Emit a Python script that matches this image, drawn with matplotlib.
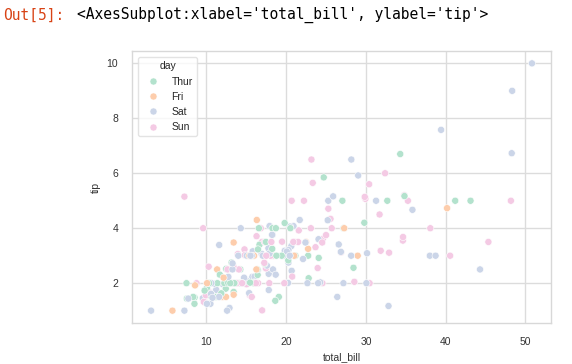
import pandas as pd
import matplotlib
matplotlib.use("Agg")
import matplotlib.pyplot as plt
import seaborn as sns

# tips data, in original row order
total_bill = [
    16.99, 10.34, 21.01, 23.68, 24.59, 25.29, 8.77, 26.88, 15.04, 14.78, 10.27, 35.26, 15.42, 18.43, 14.83, 21.58, 10.33, 16.29, 16.97,
    20.65, 17.92, 20.29, 15.77, 39.42, 19.82, 17.81, 13.37, 12.69, 21.7, 19.65, 9.55, 18.35, 15.06, 20.69, 17.78, 24.06, 16.31, 16.93, 18.69, 31.27, 16.04,
    17.46, 13.94, 9.68, 30.4, 18.29, 22.23, 32.4, 28.55, 18.04, 12.54, 10.29, 34.81, 9.94, 25.56, 19.49,
    38.01, 26.41, 11.24, 48.27, 20.29, 13.81, 11.02, 18.29, 17.59, 20.08, 16.45, 3.07, 20.23, 15.01, 12.02, 17.07, 26.86, 25.28, 14.73, 10.51, 17.92,
    27.2, 22.76, 17.29, 19.44, 16.66, 10.07, 32.68, 15.98, 34.83, 13.03, 18.28, 24.71, 21.16,
    28.97, 22.49, 5.75, 16.32, 22.75, 40.17, 27.28, 12.03, 21.01, 12.46, 11.35, 15.38,
    44.3, 22.42, 20.92, 15.36, 20.49, 25.21, 18.24, 14.31, 14.0, 7.25,
    38.07, 23.95, 25.71, 17.31, 29.93,
    10.65, 12.43, 24.08, 11.69, 13.42, 14.26, 15.95, 12.48, 29.8, 8.52, 14.52, 11.38, 22.82, 19.08, 20.27, 11.17, 12.26, 18.26, 8.51, 10.33,
    14.15, 16.0, 13.16, 17.47, 34.3, 41.19, 27.05, 16.43, 8.35, 18.64, 11.87, 9.78, 7.51,
    14.07, 13.13, 17.26, 24.55, 19.77, 29.85, 48.17, 25.0, 13.39, 16.49, 21.5, 12.66, 16.21, 13.81, 17.51, 24.52, 20.76, 31.71,
    10.59, 10.63, 50.81, 15.81,
    7.25, 31.85, 16.82, 32.9, 17.89, 14.48, 9.6, 34.63, 34.65, 23.33, 45.35, 23.17, 40.55, 20.69, 20.9, 30.46, 18.15, 23.1, 15.69,
    19.81, 28.44, 15.48, 16.58, 7.56, 10.34, 43.11, 13.0, 13.51, 18.71, 12.74, 13.0, 16.4, 20.53, 16.47,
    26.59, 38.73, 24.27, 12.76, 30.06, 25.89, 48.33, 13.27, 28.17, 12.9, 28.15, 11.59, 7.74, 30.14,
    12.16, 13.42, 8.58, 15.98, 13.42, 16.27, 10.09,
    20.45, 13.28, 22.12, 24.01, 15.69, 11.61, 10.77, 15.53, 10.07, 12.6, 32.83, 35.83, 29.03, 27.18, 22.67, 17.82,
    18.78,
]
tip = [
    1.01, 1.66, 3.5, 3.31, 3.61, 4.71, 2.0, 3.12, 1.96, 3.23, 1.71, 5.0, 1.57, 3.0, 3.02, 3.92, 1.67, 3.71, 3.5,
    3.35, 4.08, 2.75, 2.23, 7.58, 3.18, 2.34, 2.0, 2.0, 4.3, 3.0, 1.45, 2.5, 3.0, 2.45, 3.27, 3.6, 2.0, 3.07, 2.31, 5.0, 2.24,
    2.54, 3.06, 1.32, 5.6, 3.0, 5.0, 6.0, 2.05, 3.0, 2.5, 2.6, 5.2, 1.56, 4.34, 3.51,
    3.0, 1.5, 1.76, 6.73, 3.21, 2.0, 1.98, 3.76, 2.64, 3.15, 2.47, 1.0, 2.01, 2.09, 1.97, 3.0, 3.14, 5.0, 2.2, 1.25, 3.08,
    4.0, 3.0, 2.71, 3.0, 3.4, 1.83, 5.0, 2.03, 5.17, 2.0, 4.0, 5.85, 3.0,
    3.0, 3.5, 1.0, 4.3, 3.25, 4.73, 4.0, 1.5, 3.0, 1.5, 2.5, 3.0,
    2.5, 3.48, 4.08, 1.64, 4.06, 4.29, 3.76, 4.0, 3.0, 1.0,
    4.0, 2.55, 4.0, 3.5, 5.07,
    1.5, 1.8, 2.92, 2.31, 1.68, 2.5, 2.0, 2.52, 4.2, 1.48, 2.0, 2.0, 2.18, 1.5, 2.83, 1.5, 2.0, 3.25, 1.25, 2.0,
    2.0, 2.0, 2.75, 3.5, 6.7, 5.0, 5.0, 2.3, 1.5, 1.36, 1.63, 1.73, 2.0,
    2.5, 2.0, 2.74, 2.0, 2.0, 5.14, 5.0, 3.75, 2.61, 2.0, 3.5, 2.5, 2.0, 2.0, 3.0, 3.48, 2.24, 4.5,
    1.61, 2.0, 10.0, 3.16,
    5.15, 3.18, 4.0, 3.11, 2.0, 2.0, 4.0, 3.55, 3.68, 5.65, 3.5, 6.5, 3.0, 5.0, 3.5, 2.0, 3.5, 4.0, 1.5,
    4.19, 2.56, 2.02, 4.0, 1.44, 2.0, 5.0, 2.0, 2.0, 4.0, 2.01, 2.0, 2.5, 4.0, 3.23,
    3.41, 3.0, 2.03, 2.23, 2.0, 5.16, 9.0, 2.5, 6.5, 1.1, 3.0, 1.5, 1.44, 3.09,
    2.2, 3.48, 1.92, 3.0, 1.58, 2.5, 2.0,
    3.0, 2.72, 2.88, 2.0, 3.0, 3.39, 1.47, 3.0, 1.25, 1.0, 1.17, 4.67, 5.92, 2.0, 2.0, 1.75,
    3.0,
]
# day of each row, as consecutive runs
day_runs = [("Sun", 19), ("Sat", 22), ("Sun", 15), ("Sat", 21), ("Thur", 13), ("Fri", 12),
            ("Sat", 10), ("Sun", 5), ("Thur", 33), ("Sun", 18), ("Sat", 4), ("Sun", 19),
            ("Thur", 15), ("Sat", 14), ("Fri", 7), ("Sat", 16), ("Thur", 1)]
day_order = ["Thur", "Fri", "Sat", "Sun"]

day = [d for d, n in day_runs for _ in range(n)]
tips = pd.DataFrame({"total_bill": total_bill, "tip": tip, "day": day})

sns.set_theme(style="whitegrid")
plt.rcParams["font.family"] = ["Liberation Sans", "DejaVu Sans"]

fig = plt.figure(figsize=(5.72, 3.64), dpi=100, facecolor="white")
ax = fig.add_axes([0.2308, 0.1126, 0.7325, 0.7473])

sns.scatterplot(data=tips, x="total_bill", y="tip", hue="day", hue_order=day_order,
                palette="Pastel2", s=26, ax=ax)

ax.grid(color="#dcdcdc", linewidth=1.0)
for sp in ax.spines.values():
    sp.set_color("#d8d8d8")
    sp.set_linewidth(1.0)

ax.tick_params(labelsize=7.5, pad=4, labelcolor="#333333")
ax.set_xlabel("total_bill", fontsize=7.5, color="#333333")
ax.set_ylabel("tip", fontsize=7.5, color="#333333")
ax.set_xticks([10, 20, 30, 40, 50])
ax.set_yticks([2, 4, 6, 8, 10])
leg = ax.legend(title="day", loc="upper left", fontsize=7.5, title_fontsize=7.5,
                borderaxespad=0.6, markerscale=1.0)
leg.get_frame().set_edgecolor("#dddddd")

fig.text(0.005, 1 - 15 / 364, "Out[5]:", color="#d84315", family="DejaVu Sans Mono",
         fontsize=10.5, va="center")
fig.text(0.135, 1 - 15 / 364, "<AxesSubplot:xlabel='total_bill', ylabel='tip'>",
         color="black", family="DejaVu Sans Mono", fontsize=10.5, va="center")

fig.savefig("out.png", dpi=100)
